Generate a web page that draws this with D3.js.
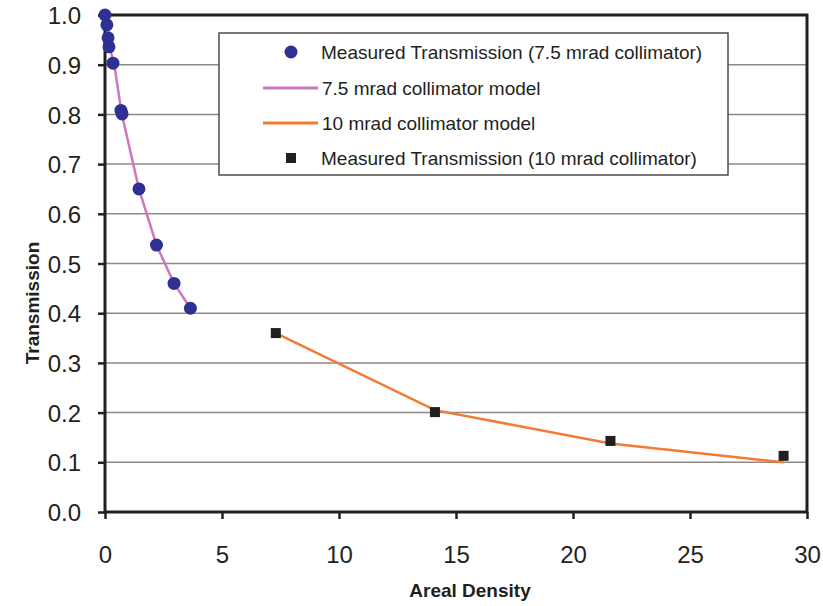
<!DOCTYPE html>
<html>
<head>
<meta charset="utf-8">
<script src="https://d3js.org/d3.v7.min.js"></script>
<style>
  body { margin: 0; background: #fff; }
  text { font-family: "Liberation Sans", Arial, sans-serif; fill: #231f20; }
  .grid line { stroke: #8f8984; stroke-width: 1.5; }
  .axis path, .axis line { stroke: #231f20; stroke-width: 2.5; }
  .axis text { font-size: 24px; }
  .title { font-size: 19px; font-weight: bold; }
  .legend text { font-size: 19px; }
</style>
</head>
<body>
<div id="chart"></div>
<script>
// measured points, 7.5 mrad collimator
var measured75X = [0, 0.08, 0.13, 0.17, 0.34, 0.68, 0.73, 1.45, 2.2, 2.95, 3.65];
var measured75Y = [1.0, 0.98, 0.954, 0.936, 0.903, 0.808, 0.801, 0.65, 0.537, 0.46, 0.41];
// 7.5 mrad model
var model75X = [0.1, 0.2, 0.4, 0.7, 1.45, 2.2, 2.95, 3.65];
var model75Y = [0.955, 0.935, 0.9, 0.805, 0.65, 0.537, 0.46, 0.41];
// 10 mrad model
var model10X = [7.3, 14.1, 21.6, 29.0];
var model10Y = [0.36, 0.205, 0.138, 0.10];
// measured points, 10 mrad collimator
var measured10X = [7.3, 14.1, 21.6, 29.0];
var measured10Y = [0.36, 0.201, 0.143, 0.113];

var xTicks = [0, 5, 10, 15, 20, 25, 30];
var yTicks = [0, 0.1, 0.2, 0.3, 0.4, 0.5, 0.6, 0.7, 0.8, 0.9, 1.0];
var legendLabels = [
  "Measured Transmission (7.5 mrad collimator)",
  "7.5 mrad collimator model",
  "10 mrad collimator model",
  "Measured Transmission (10 mrad collimator)"
];

var margin = {top: 15, right: 16, bottom: 94, left: 105},
    W = 823, H = 606,
    width = W - margin.left - margin.right,
    height = H - margin.top - margin.bottom;

var svg = d3.select("#chart").append("svg")
    .attr("width", W)
    .attr("height", H);

var g = svg.append("g")
    .attr("transform", "translate(" + margin.left + "," + margin.top + ")");

var x = d3.scaleLinear().domain([0, 30]).range([0, width]),
    y = d3.scaleLinear().domain([0, 1]).range([height, 0]);

function zip(xs, ys) {
  return xs.map(function(v, i) { return {x: v, y: ys[i]}; });
}

// gridlines
g.append("g")
    .attr("class", "grid")
    .selectAll("line")
    .data(yTicks.slice(1, -1))
    .enter().append("line")
    .attr("x1", 0)
    .attr("x2", width)
    .attr("y1", function(d) { return y(d); })
    .attr("y2", function(d) { return y(d); });

// frame
g.append("rect")
    .attr("width", width)
    .attr("height", height)
    .attr("fill", "none")
    .attr("stroke", "#231f20")
    .attr("stroke-width", 3);

g.append("g")
    .attr("class", "axis axis--x")
    .attr("transform", "translate(0," + height + ")")
    .call(d3.axisBottom(x).tickValues(xTicks).tickSize(7).tickPadding(8).tickSizeOuter(0))
    .call(function(s) { s.select(".domain").remove(); })
    .selectAll("line").attr("stroke", "#9a918a").attr("stroke-width", 1.5);

g.append("g")
    .attr("class", "axis axis--y")
    .call(d3.axisLeft(y).tickValues(yTicks).tickFormat(d3.format(".1f")).tickSize(7).tickPadding(17).tickSizeOuter(0))
    .call(function(s) { s.select(".domain").remove(); })
    .selectAll("line").attr("stroke", "#9a918a").attr("stroke-width", 1.5);

g.selectAll(".axis--x text").attr("dy", "1.5em");
g.selectAll(".axis--y text").attr("dy", "0.36em");

var line = d3.line()
    .x(function(d) { return x(d.x); })
    .y(function(d) { return y(d.y); });

g.append("path")
    .datum(zip(model75X, model75Y))
    .attr("fill", "none")
    .attr("stroke", "#cc78bc")
    .attr("stroke-width", 2.5)
    .attr("d", line);

g.append("path")
    .datum(zip(model10X, model10Y))
    .attr("fill", "none")
    .attr("stroke", "#f47a36")
    .attr("stroke-width", 2.5)
    .attr("d", line);

g.selectAll(".dot")
    .data(zip(measured75X, measured75Y))
    .enter().append("circle")
    .attr("class", "dot")
    .attr("cx", function(d) { return x(d.x); })
    .attr("cy", function(d) { return y(d.y); })
    .attr("r", 6.5)
    .attr("fill", "#2e3192");

var sq = 10;
g.selectAll(".sq")
    .data(zip(measured10X, measured10Y))
    .enter().append("rect")
    .attr("class", "sq")
    .attr("x", function(d) { return x(d.x) - sq / 2; })
    .attr("y", function(d) { return y(d.y) - sq / 2; })
    .attr("width", sq)
    .attr("height", sq)
    .attr("fill", "#231f20");

// axis titles
svg.append("text")
    .attr("class", "title")
    .attr("x", 470)
    .attr("y", 597)
    .attr("text-anchor", "middle")
    .text("Areal Density");

svg.append("text")
    .attr("class", "title")
    .attr("transform", "translate(39,303) rotate(-90)")
    .attr("text-anchor", "middle")
    .text("Transmission");

// legend
var lg = svg.append("g").attr("class", "legend");
lg.append("rect")
    .attr("x", 219)
    .attr("y", 33)
    .attr("width", 509)
    .attr("height", 142)
    .attr("fill", "#fff")
    .attr("stroke", "#4d4a48")
    .attr("stroke-width", 1.5);

var rowY = [52, 88, 123, 158];
lg.append("circle").attr("cx", 291).attr("cy", rowY[0]).attr("r", 6.5).attr("fill", "#2e3192");
lg.append("line").attr("x1", 263).attr("x2", 318).attr("y1", rowY[1]).attr("y2", rowY[1])
    .attr("stroke", "#cc78bc").attr("stroke-width", 3);
lg.append("line").attr("x1", 263).attr("x2", 318).attr("y1", rowY[2]).attr("y2", rowY[2])
    .attr("stroke", "#f47a36").attr("stroke-width", 3);
lg.append("rect").attr("x", 286).attr("y", rowY[3] - 5).attr("width", sq).attr("height", sq).attr("fill", "#231f20");

lg.selectAll(".lt")
    .data(legendLabels)
    .enter().append("text")
    .attr("class", "lt")
    .attr("x", function(d, i) { return (i == 1 || i == 2) ? 322 : 321; })
    .attr("y", function(d, i) { return rowY[i]; })
    .attr("dy", "0.36em")
    .text(function(d) { return d; });
</script>
</body>
</html>
